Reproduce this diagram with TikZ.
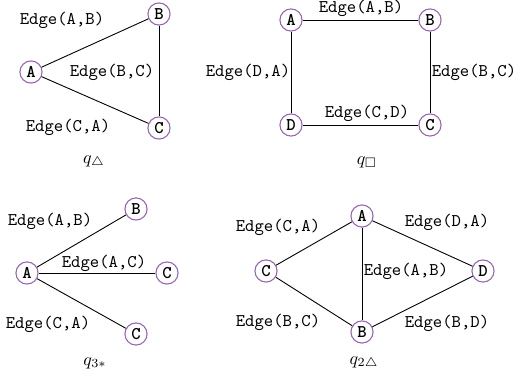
\documentclass[tikz,border=0pt]{standalone}
\usepackage{amsmath}
\usepackage{amssymb}
\usepackage{tikz}
\usetikzlibrary{positioning}
\definecolor{vpurple}{RGB}{150,100,180}
\tikzset{
  vert/.style={circle, draw=vpurple, fill=white, line width=0.6pt,
               minimum size=12.4pt, inner sep=0pt, font=\ttfamily\bfseries},
  elab/.style={font=\ttfamily, inner sep=1pt},
  qlab/.style={inner sep=1pt},
  eline/.style={draw=black, line width=0.5pt},
}

\begin{document}
\begin{tikzpicture}[x=0.56pt,y=-0.56pt]
\useasboundingbox (0,0) rectangle (515,377);
% triangle
\node[vert] (ta) at (31,72) {A};
\node[vert] (tb) at (159,14) {B};
\node[vert] (tc) at (159,128) {C};
\draw[eline] (ta) -- (tb);
\draw[eline] (tb) -- (tc);
\draw[eline] (tc) -- (ta);
\node[elab] at (62,20) {Edge(A,B)};
\node[elab] at (112,72) {Edge(B,C)};
\node[elab] at (68,127) {Edge(C,A)};
\node[qlab] at (94,162) {$q_{\triangle}$};
% square
\node[vert] (sa) at (291,20) {A};
\node[vert] (sb) at (430,20) {B};
\node[vert] (sc) at (430,125) {C};
\node[vert] (sd) at (291,125) {D};
\draw[eline] (sa) -- (sb);
\draw[eline] (sb) -- (sc);
\draw[eline] (sc) -- (sd);
\draw[eline] (sd) -- (sa);
\node[elab] at (361,8) {Edge(A,B)};
\node[elab] at (248,72) {Edge(D,A)};
\node[elab] at (474,72) {Edge(B,C)};
\node[elab] at (367,113) {Edge(C,D)};
\node[qlab] at (367,162) {$q_{\square}$};
% star
\node[vert] (xa) at (27,273) {A};
\node[vert] (xb) at (136,209) {B};
\node[vert] (xc) at (167,273) {C};
\node[vert] (xd) at (136,334) {C};
\draw[eline] (xa) -- (xb);
\draw[eline] (xa) -- (xc);
\draw[eline] (xa) -- (xd);
\node[elab] at (50,221) {Edge(A,B)};
\node[elab] at (104,263) {Edge(A,C)};
\node[elab] at (48,324) {Edge(C,A)};
\node[qlab] at (95,363) {$q_{3*}$};
% two triangles
\node[vert] (da) at (362,216) {A};
\node[vert] (db) at (362,332) {B};
\node[vert] (dc) at (266,271) {C};
\node[vert] (dd) at (483,271) {D};
\draw[eline] (dc) -- (da);
\draw[eline] (da) -- (dd);
\draw[eline] (da) -- (db);
\draw[eline] (dc) -- (db);
\draw[eline] (db) -- (dd);
\node[elab] at (278,227) {Edge(C,A)};
\node[elab] at (447,222) {Edge(D,A)};
\node[elab] at (406,271) {Edge(A,B)};
\node[elab] at (278,322) {Edge(B,C)};
\node[elab] at (447,323) {Edge(B,D)};
\node[qlab] at (364,363) {$q_{2\triangle}$};
\end{tikzpicture}
\end{document}
